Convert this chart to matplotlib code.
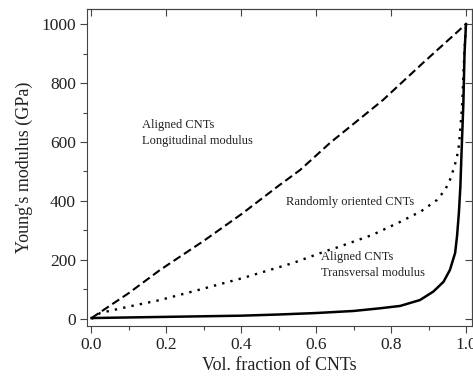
import matplotlib
matplotlib.use("Agg")
import matplotlib.pyplot as plt
from matplotlib.ticker import MultipleLocator

# values
vf_long = [0, 0.1, 0.183, 0.3, 0.4, 0.5, 0.557, 0.637, 0.778, 0.885, 1.0]
e_long = [3, 88, 166, 265, 355, 452, 505, 597, 742, 868, 1000]

vf_rand = [0, 0.023, 0.1, 0.183, 0.276, 0.405, 0.539, 0.63, 0.655, 0.75, 0.824,
           0.88, 0.922, 0.944, 0.957, 0.966, 0.973, 0.979, 0.982, 0.986, 0.99,
           0.993, 0.996, 1.0]
e_rand = [0, 20, 42, 64, 95, 139, 190, 232, 242, 285, 329,
          365, 403, 437, 471, 505, 535, 569, 601, 664, 732,
          830, 910, 1000]

vf_trans = [0, 0.1, 0.2, 0.3, 0.4, 0.5, 0.6, 0.7, 0.77, 0.824, 0.877, 0.913,
            0.94, 0.957, 0.971, 0.976, 0.981, 0.985, 0.988, 0.993, 0.996, 1.0]
e_trans = [3, 5, 7, 9, 11, 15, 20, 27, 36, 44, 64, 93,
           126, 166, 224, 280, 360, 450, 562, 732, 900, 1000]

plt.rcParams['font.family'] = ['Liberation Serif', 'DejaVu Serif']
edge = '#444444'

fig = plt.figure(figsize=(4.73, 3.81), dpi=100)
ax = fig.add_axes([87 / 473, 55 / 381, 385 / 473, 317 / 381])

ax.plot(vf_long, e_long, color='black', lw=1.5, linestyle=(0, (4, 2)))
ax.plot(vf_rand, e_rand, color='black', lw=1.7, linestyle=(0, (1, 2.6)))
ax.plot(vf_trans, e_trans, color='black', lw=1.8, linestyle='-')

ax.set_xlim(-0.012, 1.016)
ax.set_ylim(-24, 1051)
ax.xaxis.set_major_locator(MultipleLocator(0.2))
ax.xaxis.set_minor_locator(MultipleLocator(0.1))
ax.yaxis.set_major_locator(MultipleLocator(200))
ax.yaxis.set_minor_locator(MultipleLocator(100))
ax.xaxis.set_major_formatter(lambda v, p: f"{v:.1f}")

ax.tick_params(which='major', direction='out', length=5, width=0.8, color=edge,
               labelsize=12.5, labelcolor='#222222', pad=3)
ax.tick_params(which='minor', direction='out', length=3, width=0.8, color=edge)

# mirrored ticks on top and right, pointing inward
for sec in (ax.secondary_xaxis('top'), ax.secondary_yaxis('right')):
    sec.tick_params(which='major', direction='in', length=5, width=0.8, color=edge,
                    labelleft=False, labelright=False, labeltop=False, labelbottom=False)
    sec.tick_params(which='minor', direction='in', length=3, width=0.8, color=edge)
    for s in sec.spines.values():
        s.set_color(edge)
        s.set_linewidth(0.8)

for s in ax.spines.values():
    s.set_color(edge)
    s.set_linewidth(0.8)

ax.set_xlabel("Vol. fraction of CNTs", fontsize=13, color='#222222', labelpad=3)
ax.set_ylabel("Young's modulus (GPa)", fontsize=13, color='#222222', labelpad=6)

ax.text(0.135, 630, "Aligned CNTs\nLongitudinal modulus", fontsize=9,
        va='center', ha='left', linespacing=1.4, color='#222222')
ax.text(0.52, 395, "Randomly oriented CNTs", fontsize=9,
        va='center', ha='left', color='#222222')
ax.text(0.614, 183, "Aligned CNTs\nTransversal modulus", fontsize=9,
        va='center', ha='left', linespacing=1.4, color='#222222')

fig.savefig("out.png", dpi=100)
